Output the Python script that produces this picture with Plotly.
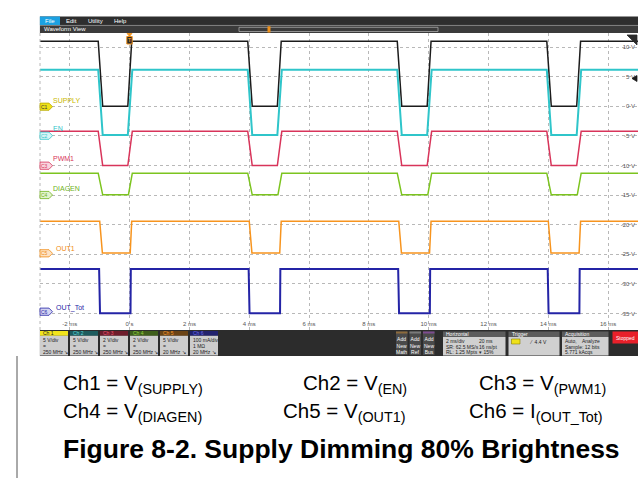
import plotly.graph_objects as go

W, H = 638, 478

# screen axes: time in ms, vertical in V (Ch1 graticule, 5 V/div)
x_range = [-3, 17]
y_range = [-37.8, 12.4]
time_ticks = [-2, 0, 2, 4, 6, 8, 10, 12, 14, 16]
time_labels = ["-2 ms", "0 s", "2 ms", "4 ms", "6 ms", "8 ms", "10 ms", "12 ms", "14 ms", "16 ms"]
volt_ticks = [10, 5, 0, -5, -10, -15, -20, -25, -30, -35]
volt_labels = ["10 V", "5 V", "0 V", "-5 V", "-10 V", "-15 V", "-20 V", "-25 V", "-30 V", "-35 V"]

# dimming pulses (ms): start of each falling edge and rising edge
fall_times = [-1.05, 3.95, 8.95, 13.95]
rise_times = [-0.06, 4.94, 9.95, 14.95]

channels = ["SUPPLY", "EN", "PWM1", "DIAGEN", "OUT1", "OUT_Tot"]
ch_colors = ["#1c1c1c", "#2fc5ca", "#d8345a", "#7cc41f", "#f7941e", "#2424a6"]
high_levels = [11.0, 6.2, -4.2, -11.3, -19.4, -27.5]
low_levels = [0.0, -4.85, -10.0, -14.95, -24.8, -34.95]
fall_delay = [0.0, 0.0, 0.0, 0.0, 0.05, 0.03]
fall_dur = [0.15, 0.15, 0.15, 0.15, 0.09, 0.03]
rise_delay = [0.0, 0.0, 0.0, 0.02, 0.08, 0.09]
rise_dur = [0.13, 0.15, 0.15, 0.13, 0.05, 0.01]

# label pixel rows of the channel markers on the left
badge_rows = [106.7, 135.7, 165.7, 195.0, 253.3, 311.7]
name_rows = [100.5, 128.5, 158.0, 188.0, 248.0, 308.0]
badge_fill = ["#efe11a", "#d8f5f6", "#f8d6de", "#e2f3cc", "#fde3c4", "#d4d4f2"]
name_colors = ["#c9b800", "#2fc5ca", "#d8345a", "#6eb21a", "#f08a14", "#2424a6"]

# channel boxes in the status bar
box_heads = ["#f2e41c", "#1d5c5e", "#6e1d2c", "#3f5f1c", "#6b4416", "#22226e"]
box_head_text = ["#222222", "#5fd8d8", "#e8566f", "#94d23e", "#f79a30", "#6b6be6"]
box_scale = ["5 V/div", "5 V/div", "2 V/div", "2 V/div", "5 V/div", "100 mA/div"]
box_mid = ["=", "=", "=", "=", "=", "1 MΩ"]
box_bw = ["250 MHz ↘", "250 MHz ↘", "250 MHz ↘", "250 MHz ↘", "20 MHz ↘", "20 MHz ↘"]

captions_row1 = ["Ch1 = V<sub>(SUPPLY)</sub>", "Ch2 = V<sub>(EN)</sub>", "Ch3 = V<sub>(PWM1)</sub>"]
captions_row2 = ["Ch4 = V<sub>(DIAGEN)</sub>", "Ch5 = V<sub>(OUT1)</sub>", "Ch6 = I<sub>(OUT_Tot)</sub>"]
caption_x1 = [62, 302, 478]
caption_x2 = [62, 282, 468]
title = "Figure 8-2. Supply Dimming 80% Brightness"


def fx(p):
    return p / W


def fy(p):
    return 1 - p / H


fig = go.Figure()

for i, name in enumerate(channels):
    xs = [x_range[0]]
    ys = [high_levels[i]]
    for f, r in zip(fall_times, rise_times):
        xs += [f + fall_delay[i], f + fall_delay[i] + fall_dur[i],
               r + rise_delay[i], r + rise_delay[i] + rise_dur[i]]
        ys += [high_levels[i], low_levels[i], low_levels[i], high_levels[i]]
    xs.append(x_range[1])
    ys.append(high_levels[i])
    fig.add_trace(go.Scatter(x=xs, y=ys, mode="lines", name=name,
                             line=dict(color=ch_colors[i], width=2 if i in (1, 5) else 1.5),
                             hoverinfo="skip"))

fig.update_layout(
    width=W, height=H,
    margin=dict(l=0, r=0, t=0, b=0),
    paper_bgcolor="white", plot_bgcolor="white",
    showlegend=False,
    font=dict(family="Liberation Sans, Arial, sans-serif"),
    xaxis=dict(domain=[fx(39.9), 1], range=x_range, tickvals=time_ticks, ticktext=time_labels,
               ticklabelposition="inside", tickfont=dict(size=6, color="#555"),
               showgrid=True, gridcolor="#b8b8b8", griddash="dot", gridwidth=1,
               zeroline=False, showline=False, ticks=""),
    yaxis=dict(domain=[fy(330), fy(33)], range=y_range, tickvals=volt_ticks, ticktext=volt_labels,
               side="right", ticklabelposition="inside", tickfont=dict(size=6, color="#555"),
               showgrid=True, gridcolor="#b8b8b8", griddash="dot", gridwidth=1,
               zeroline=False, showline=False, ticks=""),
)


def rect(x0, y0, x1, y1, fill, line_color=None, lw=0):
    fig.add_shape(type="rect", xref="paper", yref="paper",
                  x0=fx(x0), x1=fx(x1), y0=fy(y1), y1=fy(y0),
                  fillcolor=fill, line=dict(color=line_color or fill, width=lw))


def text(x, y, s, size=6, color="white", anchor="left", bold=False):
    fig.add_annotation(xref="paper", yref="paper", x=fx(x), y=fy(y), text=f"<b>{s}</b>" if bold else s,
                       showarrow=False, xanchor=anchor, yanchor="middle",
                       font=dict(size=size, color=color), borderpad=0)


def path(points, fill, line_color, lw=0.8):
    d = "M " + " L ".join(f"{fx(a):.5f},{fy(b):.5f}" for a, b in points) + " Z"
    fig.add_shape(type="path", xref="paper", yref="paper", path=d,
                  fillcolor=fill, line=dict(color=line_color, width=lw))


# left edge of graticule
fig.add_shape(type="line", xref="paper", yref="paper", x0=fx(40), x1=fx(40), y0=fy(330), y1=fy(33),
              line=dict(color="#b8b8b8", width=1, dash="dot"))

# menu bar + waveform view bar
rect(39.9, 16.5, 638, 25, "#2e2e2e")
rect(39.9, 16.5, 60, 25, "#1ba1e2")
for s, xc in zip(["File", "Edit", "Utility", "Help"], [50, 71, 95, 120]):
    text(xc, 20.8, s, 6, "white", "center")
rect(39.9, 25.3, 638, 33, "#3b3b3b")
fig.add_shape(type="line", xref="paper", yref="paper", x0=fx(39.9), x1=1, y0=fy(25.4), y1=fy(25.4),
              line=dict(color="#8a8a8a", width=0.7))
text(43, 29.3, "Waveform View", 6, "white")
rect(239, 27.3, 438, 31.5, "rgba(0,0,0,0)", "#a8a8a8", 0.8)
rect(267.5, 26.3, 270.5, 32.5, "#f0921c")

# trigger marker
path([(127, 33.5), (132, 33.5), (129.5, 36.3)], "#f0921c", "#f0921c")
rect(126.8, 36.5, 132.2, 44, "#2a2a2a", "#f0921c", 1)
text(129.5, 40.3, "T", 5, "#f0921c", "center", True)
# right-hand markers
path([(627, 35), (637, 35), (637, 45)], "#2a2a2a", "#2a2a2a")
path([(632, 78.5), (637, 75.5), (637, 81.5)], "#1c1c1c", "#1c1c1c")

# channel badges and names
for i in range(6):
    yc = badge_rows[i]
    path([(40, yc - 3.6), (49, yc - 3.6), (52.5, yc), (49, yc + 3.6), (40, yc + 3.6)],
         badge_fill[i], name_colors[i] if i else "#b8a800", 0.8)
    text(45, yc, f"C{i + 1}", 5, "#333" if i == 0 else name_colors[i], "center")
    text(52 if i < 4 else 55, name_rows[i], channels[i], 7, name_colors[i])

# status bar
rect(39.9, 330, 638, 356, "#2c2c2c")
for i in range(6):
    x0 = 40 + 30 * i
    rect(x0, 331, x0 + 28, 335.8, box_heads[i])
    rect(x0, 335.8, x0 + 28, 355.5, "#cdcdcd")
    text(x0 + 1.5, 333.4, f"Ch {i + 1}", 5, box_head_text[i])
    text(x0 + 1.5, 340, box_scale[i], 5, "#222")
    text(x0 + 1.5, 345.5, box_mid[i], 5, "#222")
    text(x0 + 1.5, 352, box_bw[i], 5, "#222")

for x0, hc, lab in zip([396, 409.5, 423], ["#8d6b3c", "#7a7a7a", "#7d4c90"], ["Math", "Ref", "Bus"]):
    rect(x0, 331.5, x0 + 11.5, 355, "#4a4a4a")
    rect(x0, 331.5, x0 + 11.5, 333.5, hc)
    text(x0 + 5.75, 345, f"Add<br>New<br>{lab}", 5, "white", "center")

rect(443, 331.5, 505.5, 337, "#5c5c5c")
rect(443, 337, 505.5, 355.5, "#d0d0d0")
text(445, 334.3, "Horizontal", 5, "white")
for row, (a, b) in zip([341, 346.5, 352], [("2 ms/div", "20 ms"), ("SR: 62.5 MS/s", "16 ns/pt"),
                                            ("RL: 1.25 Mpts", "▾ 15%")]):
    text(445, row, a, 5, "#222")
    text(478, row, b, 5, "#222")

rect(508.5, 331.5, 559.5, 337, "#5c5c5c")
rect(508.5, 337, 559.5, 355.5, "#d0d0d0")
text(510.5, 334.3, "Trigger", 5, "white")
rect(511.5, 339, 520, 344, "#efe11a", "#8a8000", 0.6)
text(528, 341.5, "⁄  4.4 V", 5, "#222")

rect(562, 331.5, 608.5, 337, "#5c5c5c")
rect(562, 337, 608.5, 355.5, "#d0d0d0")
text(564, 334.3, "Acquisition", 5, "white")
text(564, 341, "Auto,    Analyze", 5, "#222")
text(564, 346.5, "Sample: 12 bits", 5, "#222")
text(564, 352, "5.771 kAcqs", 5, "#222")

rect(612.5, 331.5, 638, 343.5, "#e8202a")
text(625.2, 337.5, "Stopped", 5, "white", "center")

# page text below the screenshot
fig.add_shape(type="line", xref="paper", yref="paper", x0=fx(17), x1=fx(17), y0=fy(356), y1=0,
              line=dict(color="#555", width=1))
for s, x in zip(captions_row1, caption_x1):
    text(x, 384, s, 20.5, "black")
for s, x in zip(captions_row2, caption_x2):
    text(x, 412, s, 20.5, "black")
text(62, 449, title, 26.5, "black", bold=True)

fig.write_html("out.html", config={"displayModeBar": False},
               post_script="document.body.style.margin='0px';")
